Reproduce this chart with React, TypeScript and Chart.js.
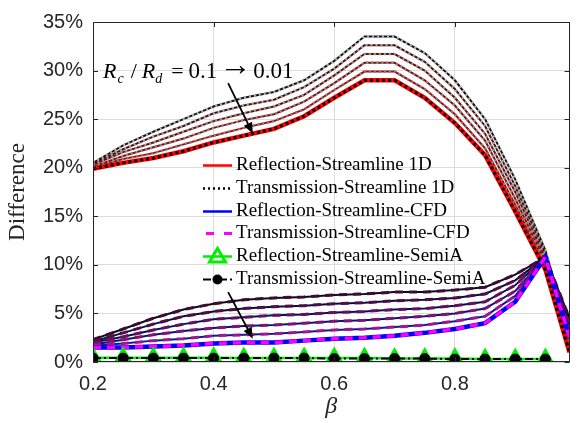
import React, { useEffect, useRef } from 'react';
import { Chart, registerables } from 'chart.js';

Chart.register(...registerables);

// ---------- data ----------
const BETA = [0.2, 0.25, 0.3, 0.35, 0.4, 0.45, 0.5, 0.55, 0.6, 0.65, 0.7, 0.75, 0.8, 0.85, 0.9, 0.95, 0.99];
const BETA_SEMI = [0.2, 0.25, 0.3, 0.35, 0.4, 0.45, 0.5, 0.55, 0.6, 0.65, 0.7, 0.75, 0.8, 0.85, 0.9, 0.95];

const X_TICKS = [0.2, 0.4, 0.6, 0.8];
const Y_TICKS = [0, 5, 10, 15, 20, 25, 30, 35];

// Streamline 1D (Rc/Rd = 0.1 -> 0.01), percent
const S1D_1 = [20.5, 22.3, 23.7, 25.0, 26.3, 27.2, 27.8, 29.0, 31.0, 33.5, 33.5, 31.8, 29.0, 25.0, 18.8, 11.5, 3.0];
const S1D_2 = [20.4, 21.9, 23.2, 24.3, 25.6, 26.4, 27.0, 28.3, 30.2, 32.6, 32.6, 30.9, 28.1, 24.3, 18.1, 11.1, 2.6];
const S1D_3 = [20.3, 21.6, 22.6, 23.7, 24.8, 25.6, 26.3, 27.5, 29.5, 31.7, 31.7, 30.0, 27.2, 23.5, 17.5, 10.7, 2.2];
const S1D_4 = [20.1, 21.2, 22.1, 23.0, 24.1, 24.9, 25.5, 26.8, 28.7, 30.8, 30.8, 29.0, 26.4, 22.8, 16.8, 10.3, 1.8];
const S1D_5 = [20.0, 20.9, 21.5, 22.4, 23.3, 24.1, 24.8, 26.0, 28.0, 29.9, 29.9, 28.1, 25.5, 22.0, 16.2, 9.9, 1.4];
const S1D_6 = [19.9, 20.5, 21.0, 21.7, 22.6, 23.3, 24.0, 25.3, 27.2, 29.0, 29.0, 27.2, 24.6, 21.3, 15.5, 9.5, 1.0];

// Streamline CFD (Rc/Rd = 0.1 -> 0.01), percent
const CFD_1 = [2.3, 3.4, 4.5, 5.4, 6.0, 6.4, 6.6, 6.7, 6.9, 7.0, 7.2, 7.2, 7.4, 7.7, 9.0, 10.8, 4.5];
const CFD_2 = [2.1, 3.0, 3.9, 4.7, 5.2, 5.5, 5.7, 5.8, 6.0, 6.1, 6.3, 6.4, 6.6, 7.0, 8.4, 10.8, 4.1];
const CFD_3 = [2.0, 2.6, 3.3, 3.9, 4.4, 4.6, 4.8, 4.9, 5.1, 5.2, 5.4, 5.5, 5.8, 6.2, 7.9, 10.8, 3.7];
const CFD_4 = [1.8, 2.3, 2.8, 3.2, 3.5, 3.7, 3.8, 4.0, 4.2, 4.3, 4.5, 4.7, 5.0, 5.5, 7.3, 10.8, 3.3];
const CFD_5 = [1.7, 1.9, 2.2, 2.4, 2.7, 2.8, 2.9, 3.1, 3.3, 3.4, 3.6, 3.8, 4.2, 4.7, 6.8, 10.8, 2.9];
const CFD_6 = [1.5, 1.5, 1.6, 1.7, 1.9, 2.0, 2.0, 2.2, 2.4, 2.5, 2.7, 3.0, 3.4, 4.0, 6.2, 10.8, 2.5];

// Semi-analytical
const REFL_SEMI = [0.45, 0.45, 0.45, 0.45, 0.45, 0.4, 0.4, 0.4, 0.4, 0.4, 0.35, 0.35, 0.35, 0.3, 0.3, 0.3];
const TRANS_SEMI = [0.4, 0.4, 0.4, 0.4, 0.4, 0.4, 0.4, 0.4, 0.35, 0.35, 0.35, 0.35, 0.3, 0.3, 0.3, 0.3];

const REFL_1D = [S1D_1, S1D_2, S1D_3, S1D_4, S1D_5, S1D_6];
const TRANS_1D = [S1D_1, S1D_2, S1D_3, S1D_4, S1D_5, S1D_6];
const REFL_CFD = [CFD_1, CFD_2, CFD_3, CFD_4, CFD_5, CFD_6];
const TRANS_CFD = [CFD_1, CFD_2, CFD_3, CFD_4, CFD_5, CFD_6];

const LEGEND_LABELS = [
  'Reflection-Streamline 1D',
  'Transmission-Streamline 1D',
  'Reflection-Streamline-CFD',
  'Transmission-Streamline-CFD',
  'Reflection-Streamline-SemiA',
  'Transmission-Streamline-SemiA',
];

// ---------- styles ----------
const C_REFL_1D = ['#141414', '#4a0c0c', '#680c0c', '#860b0b', '#a80909', '#ff0000'];
const C_TRANS_1D = ['#b4b4b4', '#a8a8a8', '#9c9c9c', '#909090', '#848484', '#000000'];
const C_REFL_CFD = ['#0a0a1e', '#0a0a3c', '#0c0c58', '#101072', '#141496', '#0000ff'];
const C_TRANS_CFD = ['#3d0c34', '#4e0f46', '#65125c', '#7c1672', '#9c1a8e', '#ff00ff'];

const AXIS_COLOR = '#262626';
const GRID_COLOR = '#dcdcdc';
const SERIF = '"Liberation Serif", "Times New Roman", serif';
const SANS = '"Liberation Sans", Arial, sans-serif';

const pts = (xs: number[], ys: number[]) => xs.map((v, i) => ({ x: v, y: ys[i] }));

function buildDatasets() {
  const ds: any[] = [];
  let drawIdx = 0;
  const push = (d: any) => {
    ds.push({ ...d, order: 1000 - drawIdx });
    drawIdx++;
  };
  for (let k = 0; k < 6; k++) {
    const last = k === 5;
    push({
      label: LEGEND_LABELS[0],
      data: pts(BETA, REFL_1D[k]),
      borderColor: C_REFL_1D[k],
      borderWidth: last ? 4.5 : 2,
      pointRadius: 0,
    });
    push({
      label: LEGEND_LABELS[1],
      data: pts(BETA, TRANS_1D[k]),
      borderColor: C_TRANS_1D[k],
      borderWidth: last ? 3 : 2.5,
      borderDash: last ? [3, 3] : [2, 3],
      pointRadius: 0,
    });
  }
  for (let k = 0; k < 6; k++) {
    const last = k === 5;
    push({
      label: LEGEND_LABELS[2],
      data: pts(BETA, REFL_CFD[k]),
      borderColor: C_REFL_CFD[k],
      borderWidth: last ? 4.5 : 2,
      pointRadius: 0,
    });
    push({
      label: LEGEND_LABELS[3],
      data: pts(BETA, TRANS_CFD[k]),
      borderColor: C_TRANS_CFD[k],
      borderWidth: last ? 3.5 : 3,
      borderDash: [8, 6],
      pointRadius: 0,
    });
  }
  push({
    label: LEGEND_LABELS[4],
    data: pts(BETA_SEMI, REFL_SEMI),
    borderColor: '#00ee00',
    borderWidth: 2.5,
    pointStyle: 'triangle',
    pointRadius: 8.5,
    pointBorderWidth: 3,
    pointBorderColor: '#00ee00',
    pointBackgroundColor: 'rgba(190,255,190,0.6)',
  });
  push({
    label: LEGEND_LABELS[5],
    data: pts(BETA_SEMI, TRANS_SEMI),
    borderColor: '#000000',
    borderWidth: 2,
    borderDash: [8, 3, 2, 3],
    pointStyle: 'circle',
    pointRadius: 5,
    pointBorderWidth: 1,
    pointBorderColor: '#000000',
    pointBackgroundColor: '#000000',
  });
  return ds;
}

function arrow(ctx: CanvasRenderingContext2D, x1: number, y1: number, x2: number, y2: number) {
  const ang = Math.atan2(y2 - y1, x2 - x1);
  const hl = 11, hw = 4.5;
  const bx = x2 - hl * Math.cos(ang), by = y2 - hl * Math.sin(ang);
  ctx.strokeStyle = '#000';
  ctx.fillStyle = '#000';
  ctx.lineWidth = 1.8;
  ctx.setLineDash([]);
  ctx.beginPath();
  ctx.moveTo(x1, y1);
  ctx.lineTo(bx, by);
  ctx.stroke();
  ctx.beginPath();
  ctx.moveTo(x2, y2);
  ctx.lineTo(bx + hw * Math.sin(ang), by - hw * Math.cos(ang));
  ctx.lineTo(bx - hw * Math.sin(ang), by + hw * Math.cos(ang));
  ctx.closePath();
  ctx.fill();
}

const overlayPlugin = {
  id: 'overlay',
  afterDatasetsDraw(chart: any) {
    const { ctx, chartArea: a, scales } = chart;
    const xs = scales.x, ys = scales.y;
    ctx.save();

    // box
    ctx.strokeStyle = AXIS_COLOR;
    ctx.lineWidth = 1;
    ctx.setLineDash([]);
    ctx.strokeRect(Math.round(a.left) + 0.5, Math.round(a.top) + 0.5, Math.round(a.right - a.left) - 1, Math.round(a.bottom - a.top) - 1);

    // inward ticks
    ctx.beginPath();
    X_TICKS.forEach((v) => {
      const px = Math.round(xs.getPixelForValue(v)) + 0.5;
      ctx.moveTo(px, a.bottom);
      ctx.lineTo(px, a.bottom - 5);
      ctx.moveTo(px, a.top);
      ctx.lineTo(px, a.top + 5);
    });
    Y_TICKS.forEach((v) => {
      const py = Math.round(ys.getPixelForValue(v)) + 0.5;
      ctx.moveTo(a.left, py);
      ctx.lineTo(a.left + 5, py);
      ctx.moveTo(a.right, py);
      ctx.lineTo(a.right - 5, py);
    });
    ctx.stroke();

    // annotation text
    ctx.fillStyle = '#000';
    ctx.textBaseline = 'alphabetic';
    ctx.textAlign = 'left';
    let x = a.left + 10;
    const base = a.top + 56;
    const put = (t: string, font: string, dy: number, gap: number) => {
      ctx.font = font;
      ctx.fillText(t, x, base + dy);
      x += ctx.measureText(t).width + gap;
    };
    put('R', `italic 22px ${SERIF}`, 0, 1);
    put('c', `italic 14px ${SERIF}`, 5, 7);
    put('/', `22px ${SERIF}`, 0, 5);
    put('R', `italic 22px ${SERIF}`, 0, 0);
    put('d', `italic 14px ${SERIF}`, 5, 9);
    put('=', `22px ${SERIF}`, 0, 5);
    put('0.1', `23px ${SERIF}`, 0, 2);
    put('\u2192', `32px ${SERIF}`, -3.5, 2);
    put('0.01', `23px ${SERIF}`, 0, 0);

    // arrows
    arrow(ctx, xs.getPixelForValue(0.424), ys.getPixelForValue(28.7), xs.getPixelForValue(0.465), ys.getPixelForValue(23.5));
    arrow(ctx, xs.getPixelForValue(0.424), ys.getPixelForValue(7.2), xs.getPixelForValue(0.465), ys.getPixelForValue(2.4));

    // legend
    const lx = a.left + 110;
    const ly = a.top + 143;
    const rowH = 22.8;
    const lw = 29;
    ctx.font = `19px ${SERIF}`;
    ctx.textBaseline = 'middle';
    LEGEND_LABELS.forEach((lab, i) => {
      const cy = Math.round(ly + i * rowH) + 0.5;
      ctx.save();
      ctx.beginPath();
      if (i === 0) { ctx.strokeStyle = '#ff0000'; ctx.lineWidth = 2.5; }
      if (i === 1) { ctx.strokeStyle = '#000'; ctx.lineWidth = 2.5; ctx.setLineDash([2, 3]); }
      if (i === 2) { ctx.strokeStyle = '#0000ff'; ctx.lineWidth = 2.5; }
      if (i === 3) { ctx.strokeStyle = '#ff00ff'; ctx.lineWidth = 3; ctx.setLineDash([8, 10]); }
      if (i === 4) { ctx.strokeStyle = '#00ee00'; ctx.lineWidth = 2.5; }
      if (i === 5) { ctx.strokeStyle = '#000'; ctx.lineWidth = 2; ctx.setLineDash([8, 3, 2, 3]); }
      const sx = i === 3 ? lx + 3 : lx;
      ctx.moveTo(sx, cy);
      ctx.lineTo(lx + lw, cy);
      ctx.stroke();
      ctx.setLineDash([]);
      const mx = lx + lw / 2;
      if (i === 4) {
        ctx.beginPath();
        ctx.moveTo(mx, cy - 8);
        ctx.lineTo(mx + 8, cy + 5.5);
        ctx.lineTo(mx - 8, cy + 5.5);
        ctx.closePath();
        ctx.lineWidth = 3;
        ctx.stroke();
      }
      if (i === 5) {
        ctx.beginPath();
        ctx.arc(mx, cy, 5, 0, Math.PI * 2);
        ctx.fillStyle = '#000';
        ctx.fill();
      }
      ctx.restore();
      ctx.fillStyle = '#000';
      ctx.fillText(lab, lx + lw + 4, cy);
    });

    ctx.restore();
  },
};

export default function App() {
  const ref = useRef<HTMLCanvasElement>(null);
  useEffect(() => {
    const canvas = ref.current;
    if (!canvas) return;
    const chart = new Chart(canvas, {
      type: 'line',
      data: { datasets: buildDatasets() },
      options: {
        animation: false,
        responsive: false,
        devicePixelRatio: 1,
        layout: { padding: { top: 13, right: 2, left: 0, bottom: 0 } },
        plugins: { legend: { display: false }, tooltip: { enabled: false } },
        elements: { line: { tension: 0 } },
        scales: {
          x: {
            type: 'linear',
            min: 0.2,
            max: 0.99,
            afterBuildTicks: (s: any) => { s.ticks = X_TICKS.map((v) => ({ value: v })); },
            afterFit: (s: any) => { s.height = 61; },
            grid: { color: GRID_COLOR, lineWidth: 1, drawTicks: false },
            border: { display: false },
            ticks: {
              color: AXIS_COLOR,
              font: { family: SANS, size: 20 },
              padding: 10,
              maxRotation: 0,
              callback: (v: any) => Number(v).toFixed(1),
            },
            title: {
              display: true,
              text: '\u03b2',
              color: AXIS_COLOR,
              font: { family: SERIF, size: 24, style: 'italic' },
              padding: { top: 0, bottom: 2 },
            },
          },
          y: {
            type: 'linear',
            min: 0,
            max: 35,
            afterBuildTicks: (s: any) => { s.ticks = Y_TICKS.map((v) => ({ value: v })); },
            afterFit: (s: any) => { s.width = 93; },
            grid: { color: GRID_COLOR, lineWidth: 1, drawTicks: false },
            border: { display: false },
            ticks: {
              color: AXIS_COLOR,
              font: { family: SANS, size: 20 },
              padding: 10,
              callback: (v: any) => `${v}%`,
            },
            title: {
              display: true,
              text: 'Difference',
              color: AXIS_COLOR,
              font: { family: SERIF, size: 23 },
              padding: { top: 4, bottom: 0 },
            },
          },
        },
      },
      plugins: [overlayPlugin],
    } as any);
    return () => chart.destroy();
  }, []);
  return (
    <div style={{ position: 'absolute', left: 0, top: 0, width: 581, height: 423, background: '#fff' }}>
      <canvas ref={ref} width={581} height={423} style={{ display: 'block', width: 581, height: 423 }} />
    </div>
  );
}
